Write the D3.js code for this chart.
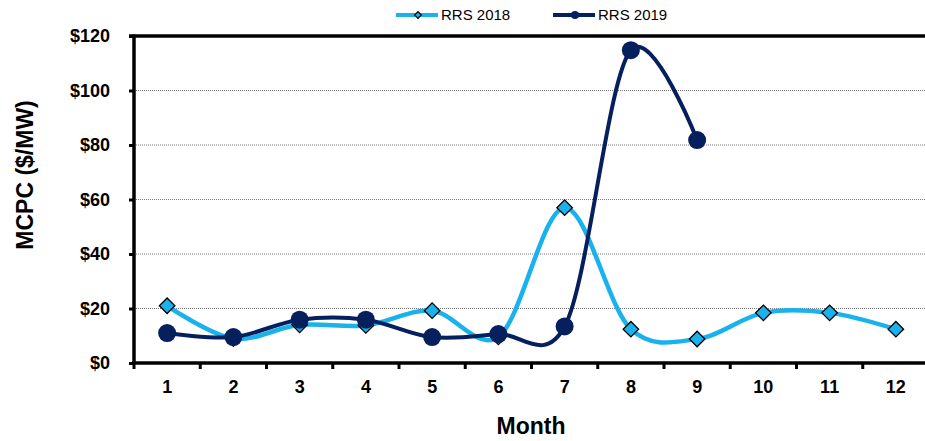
<!DOCTYPE html>
<html><head><meta charset="utf-8">
<script src="https://cdnjs.cloudflare.com/ajax/libs/d3/7.8.5/d3.min.js"></script>
<style>body{margin:0;background:#fff}svg{display:block;font-family:Arial,"Liberation Sans",sans-serif}</style>
</head><body><svg id="c" width="925" height="441"></svg>
<script>
const months = [1,2,3,4,5,6,7,8,9,10,11,12];
const rrs2018 = [21.0, 9.0, 14.0, 13.8, 19.2, 9.6, 57.0, 12.4, 8.8, 18.4, 18.4, 12.4];
const rrs2019 = [11.0, 9.5, 15.9, 15.9, 9.5, 10.6, 13.4, 114.8, 81.8];
const yTicks = [0, 20, 40, 60, 80, 100, 120];
const seriesNames = ["RRS 2018", "RRS 2019"];

const light = "#19B2EC", navy = "#06205E";
const svg = d3.select("#c");
const x = d3.scaleBand().domain(months).range([134, 929]).padding(0);
const cx = m => x(m) + x.bandwidth()/2;
const y = d3.scaleLinear().domain([0,120]).range([363, 36]);

// gridlines
svg.append("g").selectAll("line").data(yTicks.filter(d=>d>0 && d<120)).join("line")
  .attr("x1",134).attr("x2",925).attr("y1",d=>y(d)).attr("y2",d=>y(d))
  .attr("stroke","#777").attr("stroke-width",1).attr("stroke-dasharray","1,1");

// y axis
const ya = svg.append("g").attr("transform","translate(134,0)")
  .call(d3.axisLeft(y).tickValues(yTicks).tickFormat(d=>"$"+d).tickSize(5).tickPadding(19));
ya.select(".domain").remove();
ya.selectAll("line").attr("stroke","#000").attr("stroke-width",3);
ya.selectAll("text").attr("font-size",18).attr("font-weight","bold").attr("fill","#000").attr("font-family","Arial, Liberation Sans, sans-serif");
svg.append("line").attr("x1",134).attr("x2",134).attr("y1",y(120)-1.5).attr("y2",y(0)+1.5).attr("stroke","#000").attr("stroke-width",3.5);
// top border
svg.append("line").attr("x1",129).attr("x2",925).attr("y1",y(120)).attr("y2",y(120)).attr("stroke","#000").attr("stroke-width",3.5);

// x axis
const xa = svg.append("g").attr("transform",`translate(0,${y(0)})`)
  .call(d3.axisBottom(x).tickSize(0).tickPadding(17));
xa.select(".domain").remove();
xa.selectAll("text").attr("font-size",18).attr("font-weight","bold").attr("fill","#000").attr("font-family","Arial, Liberation Sans, sans-serif");
svg.append("line").attr("x1",132).attr("x2",925).attr("y1",y(0)).attr("y2",y(0)).attr("stroke","#000").attr("stroke-width",3.5);
svg.append("g").selectAll("line").data(months).join("line")
  .attr("x1",d=>x(d)).attr("x2",d=>x(d)).attr("y1",y(0)).attr("y2",y(0)+6)
  .attr("stroke","#000").attr("stroke-width",3);

// titles
svg.append("text").attr("transform","translate(33,175) rotate(-90)").attr("text-anchor","middle")
  .attr("font-size",23).attr("font-weight","bold").text("MCPC ($/MW)");
svg.append("text").attr("x",531).attr("y",434).attr("text-anchor","middle")
  .attr("font-size",23).attr("font-weight","bold").text("Month");

const line = d3.line().x((d,i)=>cx(months[i])).y(d=>y(d)).curve(d3.curveCatmullRom.alpha(0.1));

// 2018
svg.append("path").attr("d",line(rrs2018)).attr("fill","none").attr("stroke",light).attr("stroke-width",4.5);
const diamond = d3.symbol().type(d3.symbolSquare).size(120);
svg.append("g").selectAll("path").data(rrs2018).join("path")
  .attr("d",diamond).attr("transform",(d,i)=>`translate(${cx(months[i])},${y(d)}) rotate(45)`)
  .attr("fill",light).attr("stroke","#000").attr("stroke-width",1.3);

// 2019
svg.append("path").attr("d",line(rrs2019)).attr("fill","none").attr("stroke",navy).attr("stroke-width",4);
svg.append("g").selectAll("circle").data(rrs2019).join("circle")
  .attr("cx",(d,i)=>cx(months[i])).attr("cy",d=>y(d)).attr("r",9).attr("fill",navy);

// legend
const lg = svg.append("g");
const items = [{n:seriesNames[0],c:light,x:396,m:"d"},{n:seriesNames[1],c:navy,x:553,m:"c"}];
items.forEach(it=>{
  lg.append("line").attr("x1",it.x).attr("x2",it.x+42).attr("y1",15).attr("y2",15).attr("stroke",it.c).attr("stroke-width",4);
  if(it.m==="d"){
    lg.append("path").attr("d",d3.symbol().type(d3.symbolSquare).size(22)).attr("transform",`translate(${it.x+22},15) rotate(45)`)
      .attr("fill",it.c).attr("stroke","#000").attr("stroke-width",1.2);
  } else {
    lg.append("circle").attr("cx",it.x+22).attr("cy",15).attr("r",4).attr("fill",it.c);
  }
  lg.append("text").attr("x",it.x+45).attr("y",20).attr("font-size",15).attr("fill","#000").text(it.n);
});
</script></body></html>
